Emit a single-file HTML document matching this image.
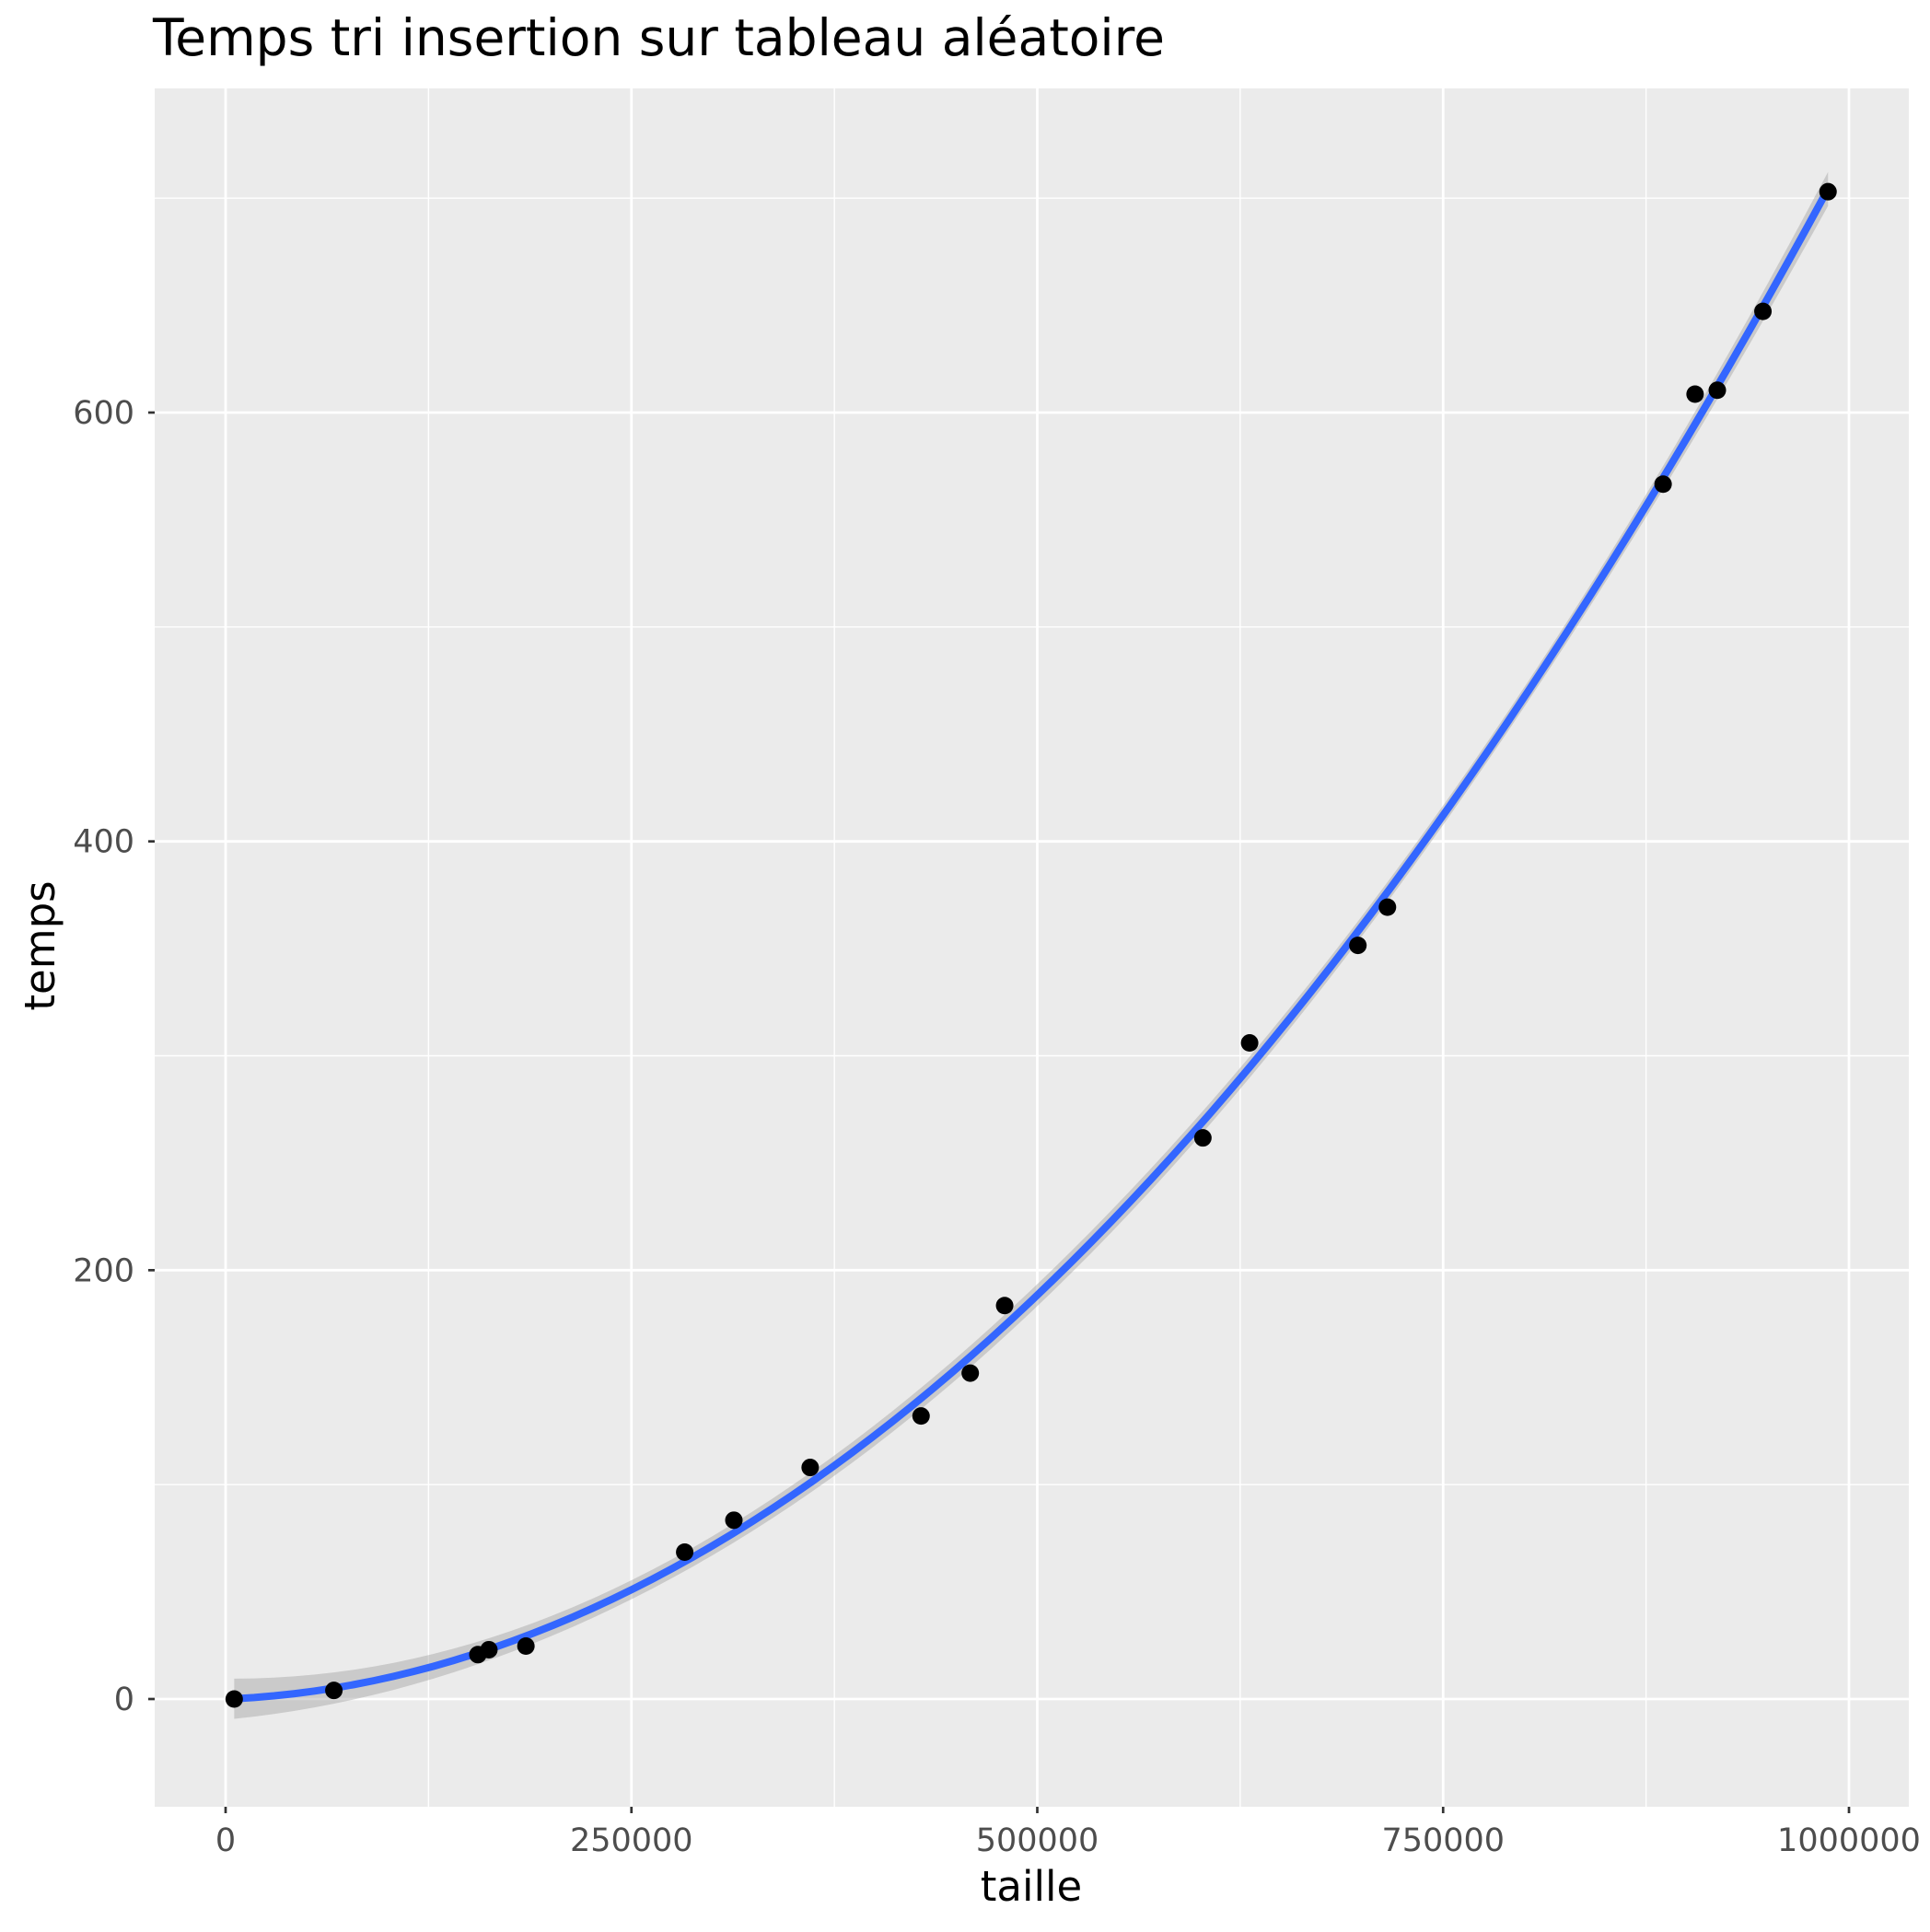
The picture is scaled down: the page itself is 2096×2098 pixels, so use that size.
<!DOCTYPE html>
<html><head><meta charset="utf-8"><style>
html,body{margin:0;padding:0;background:#fff}
svg{display:block}
text{font-family:"DejaVu Sans","Liberation Sans",sans-serif}
</style></head><body>
<svg id="chart" width="2096" height="2098" xmlns="http://www.w3.org/2000/svg">
<rect width="2096" height="2098" fill="#fff"/>
<text x="166" y="60" font-size="55" fill="#000">Temps tri insertion sur tableau aléatoire</text>
<rect x="168" y="96" width="1905" height="1866" fill="#ebebeb"/>
<g id="grid"></g>
<g id="band"></g>
<g id="line"></g>
<g id="points"></g>
<g id="axes"></g>
<text x="1120" y="2064" font-size="45" text-anchor="middle" fill="#000">taille</text>
<text transform="translate(59,1027) rotate(-90)" font-size="45" text-anchor="middle" fill="#000">temps</text>
</svg>
<script>
const sizes=[5300,66700,155400,162200,185000,282800,313100,360100,428400,458700,479900,602000,630800,697500,715700,885500,905200,918900,947000,987100];
const times=[0,4,20.7,23,24.7,68.5,83.4,108,132,152,183.5,261.7,306,351.5,369.3,566.6,608.6,610.4,647.2,703];
const xTicks=[0,250000,500000,750000,1000000];
const xTickLabels=["0","250000","500000","750000","1000000"];
const yTicks=[0,200,400,600];
const yTickLabels=["0","200","400","600"];
const xMinor=[125000,375000,625000,875000];
const yMinor=[100,300,500,700];

const NS="http://www.w3.org/2000/svg";
const L=168,R=2073,T=96,B=1962;
function xs(v){return 245+(v/1e6)*(2008-245);}
function ys(v){return 1845-v*(1845-448)/600;}
function mk(tag,attrs,parent){const e=document.createElementNS(NS,tag);for(const k in attrs)e.setAttribute(k,attrs[k]);parent.appendChild(e);return e;}
const grid=document.getElementById('grid');
xMinor.forEach(v=>{const e=mk('line',{x1:xs(v),x2:xs(v),y1:T,y2:B,stroke:'#fff','stroke-width':1.4},grid);

});
yMinor.forEach(v=>{const e=mk('line',{x1:L,x2:R,y1:ys(v),y2:ys(v),stroke:'#fff','stroke-width':1.4},grid);

});
xTicks.forEach(v=>{const e=mk('line',{x1:xs(v),x2:xs(v),y1:T,y2:B,stroke:'#fff','stroke-width':2.8},grid);

});
yTicks.forEach(v=>{const e=mk('line',{x1:L,x2:R,y1:ys(v),y2:ys(v),stroke:'#fff','stroke-width':2.8},grid);

});

const n=sizes.length;
const X=sizes.map(s=>[1,s/1e6,(s/1e6)**2]);
const XtX=[[0,0,0],[0,0,0],[0,0,0]],Xty=[0,0,0];
for(let i=0;i<n;i++)for(let a=0;a<3;a++){Xty[a]+=X[i][a]*times[i];for(let b=0;b<3;b++)XtX[a][b]+=X[i][a]*X[i][b];}
function inv3(m){const[a,b,c]=m[0],[d,e,f]=m[1],[g,h,k]=m[2];
const A=e*k-f*h,Bv=-(d*k-f*g),C=d*h-e*g,det=a*A+b*Bv+c*C;
return[[A/det,-(b*k-c*h)/det,(b*f-c*e)/det],[Bv/det,(a*k-c*g)/det,-(a*f-c*d)/det],[C/det,-(a*h-b*g)/det,(a*e-b*d)/det]];}
const Inv=inv3(XtX);
const beta=[0,1,2].map(a=>Inv[a][0]*Xty[0]+Inv[a][1]*Xty[1]+Inv[a][2]*Xty[2]);
let rss=0;for(let i=0;i<n;i++){const p=beta[0]+beta[1]*X[i][1]+beta[2]*X[i][2];rss+=(times[i]-p)**2;}
const sigma=Math.sqrt(rss/(n-3)),tq=2.11;
const xmin=Math.min(...sizes),xmax=Math.max(...sizes);
const up=[],lo=[],mid=[];
for(let j=0;j<=80;j++){const s=xmin+(xmax-xmin)*j/80,u=s/1e6,v=[1,u,u*u];
const f=beta[0]+beta[1]*u+beta[2]*u*u;let q=0;for(let a=0;a<3;a++)for(let b=0;b<3;b++)q+=v[a]*Inv[a][b]*v[b];
const se=sigma*Math.sqrt(q);mid.push([xs(s),ys(f)]);up.push([xs(s),ys(f+tq*se)]);lo.push([xs(s),ys(f-tq*se)]);}
const bandPts=up.concat(lo.reverse()).map(p=>p.join(',')).join(' ');
const bp=mk('polygon',{points:bandPts,fill:'#999',opacity:0.4},document.getElementById('band'));


const pl=mk('polyline',{points:mid.map(p=>p.join(',')).join(' '),fill:'none',stroke:'#3366FF','stroke-width':8},document.getElementById('line'));



const pts=document.getElementById('points');
for(let i=0;i<n;i++){const c=mk('circle',{cx:xs(sizes[i]),cy:ys(times[i]),r:9.5,fill:'#000'},pts);

}

const axes=document.getElementById('axes');
xTicks.forEach((v,i)=>{const t=mk('line',{x1:xs(v),x2:xs(v),y1:B,y2:B+7,stroke:'#333','stroke-width':2.7},axes);


const l=mk('text',{x:xs(v),y:B+48,'font-size':35,'text-anchor':'middle',fill:'#4d4d4d'},axes);l.textContent=xTickLabels[i];

});
yTicks.forEach((v,i)=>{const t=mk('line',{x1:L-7,x2:L,y1:ys(v),y2:ys(v),stroke:'#333','stroke-width':2.7},axes);


const l=mk('text',{x:L-22,y:ys(v)+12,'font-size':35,'text-anchor':'end',fill:'#4d4d4d'},axes);l.textContent=yTickLabels[i];

});
</script>
</body></html>
